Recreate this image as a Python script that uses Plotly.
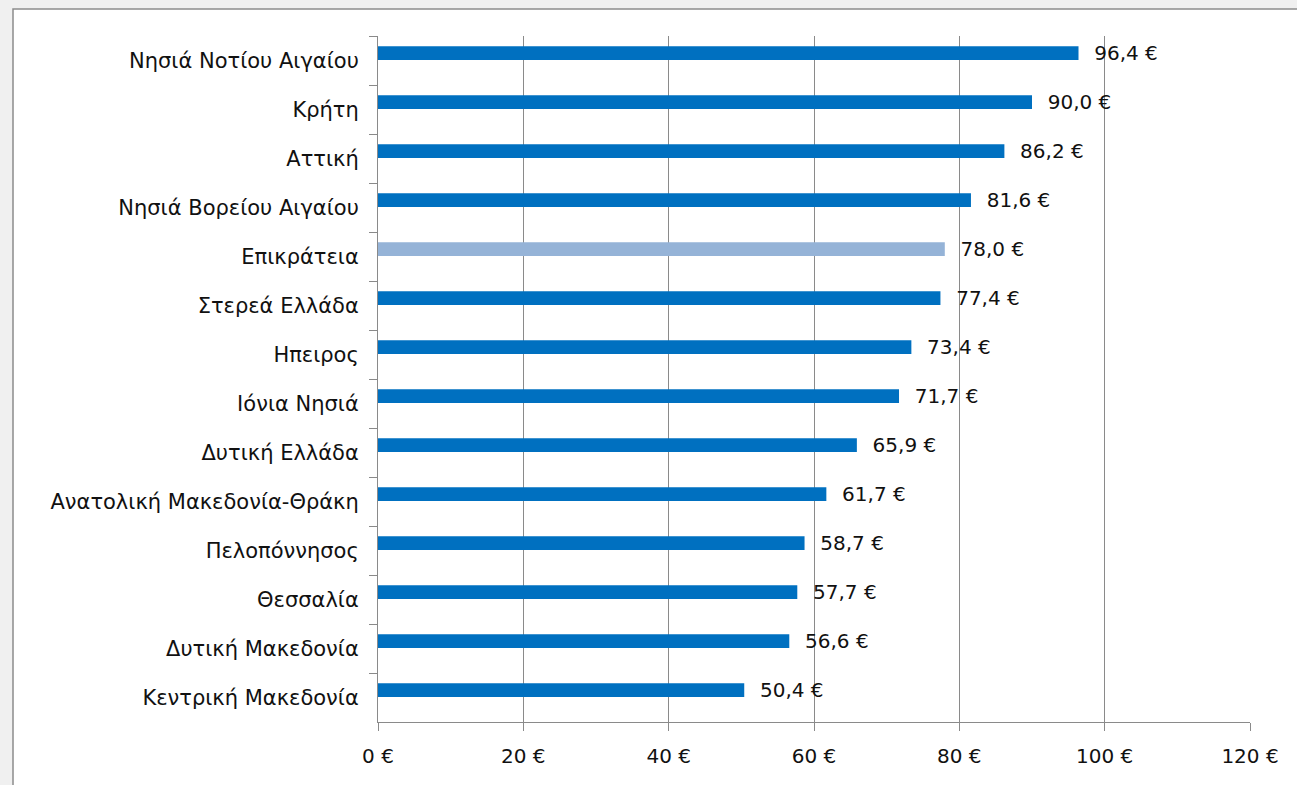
import plotly.graph_objects as go

categories = ["Νησιά Νοτίου Αιγαίου", "Κρήτη", "Αττική", "Νησιά Βορείου Αιγαίου",
              "Επικράτεια", "Στερεά Ελλάδα", "Ηπειρος", "Ιόνια Νησιά", "Δυτική Ελλάδα",
              "Ανατολική Μακεδονία-Θράκη", "Πελοπόννησος", "Θεσσαλία", "Δυτική Μακεδονία",
              "Κεντρική Μακεδονία"]
values = [96.4, 90.0, 86.2, 81.6, 78.0, 77.4, 73.4, 71.7, 65.9, 61.7, 58.7, 57.7, 56.6, 50.4]
highlight = "Επικράτεια"
x_ticks = [0, 20, 40, 60, 80, 100, 120]

labels = ["  " + f"{v:.1f}".replace(".", ",") + " €" for v in values]
colors = ["#95B3D7" if c == highlight else "#0070C0" for c in categories]

W, H = 1297, 785
L, R, T, B = 378, 47, 36, 63
FONT = "DejaVu Sans"

fig = go.Figure(go.Bar(
    x=values, y=categories, orientation="h",
    marker=dict(color=colors, line=dict(width=0)),
    width=0.28, offset=-0.29,
    text=labels, textposition="outside", cliponaxis=False, constraintext="none",
    textfont=dict(family=FONT, size=20, color="#111111"),
    hoverinfo="skip",
))

fig.update_layout(
    width=W, height=H,
    margin=dict(l=L, r=R, t=T, b=B),
    paper_bgcolor="#f0f0f0", plot_bgcolor="#ffffff",
    showlegend=False,
    font=dict(family=FONT, size=19, color="#111111"),
    shapes=[dict(type="rect", xref="paper", yref="paper",
                 x0=(13 - L) / (W - L - R), x1=(W + 5 - L) / (W - L - R),
                 y0=-(H + 5 - (H - B)) / (H - T - B), y1=(H - B - 9) / (H - T - B),
                 line=dict(color="#8c8c8c", width=1.5), fillcolor="#ffffff", layer="below")],
)

fig.update_xaxes(
    range=[0, 120], tickvals=x_ticks, ticktext=[f"{t} €" for t in x_ticks],
    showgrid=True, gridcolor="#8a8a8a", gridwidth=1,
    showline=True, linecolor="#8a8a8a", linewidth=1,
    ticks="outside", ticklen=8, tickcolor="#8a8a8a",
    ticklabelstandoff=8,
    zeroline=False, tickfont=dict(family=FONT, size=20),
    fixedrange=True,
)
fig.update_yaxes(
    categoryorder="array", categoryarray=categories, autorange="reversed",
    showgrid=False, showline=True, linecolor="#8a8a8a", linewidth=1,
    ticks="outside", ticklen=8, tickcolor="#8a8a8a", tickson="boundaries",
    ticklabelstandoff=14, tickfont=dict(family=FONT, size=21),
    fixedrange=True,
)

fig.write_html("out.html", config={"displayModeBar": False},
               post_script="document.body.style.margin='0';")
